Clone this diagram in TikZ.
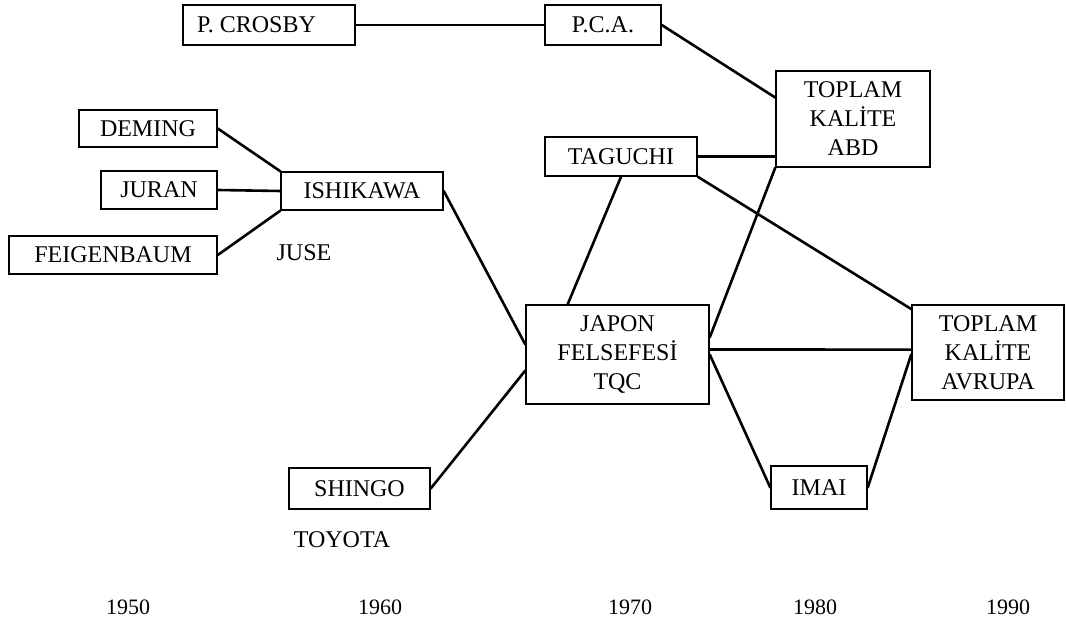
\documentclass[tikz,border=0pt]{standalone}
\usepackage{fontspec}
\setmainfont{Liberation Serif}
\usetikzlibrary{calc}
\begin{document}
\begin{tikzpicture}[x=1pt,y=1pt,
  box/.style={draw,line width=1.5pt,inner sep=0pt,align=center,
    font=\fontsize{24}{29}\selectfont},
  link/.style={line width=2.6pt,line cap=round},
  plain/.style={inner sep=0pt,font=\fontsize{24}{29}\selectfont},
  year/.style={inner sep=0pt,font=\fontsize{22}{26}\selectfont}]
\useasboundingbox (0,0) rectangle (1066,625);
% boxes (centres measured from the bottom edge of the page)
\node[box,minimum width=172,minimum height=40] (crosby) at (269,600) {\hspace*{-25pt}P. CROSBY};
\node[box,minimum width=116,minimum height=40] (pca) at (603,600) {P.C.A.};
\node[box,minimum width=154,minimum height=96] (abd) at (853,506) {TOPLAM\\KALİTE\\ABD};
\node[box,minimum width=152,minimum height=39] (taguchi) at (621,468.5) {TAGUCHI};
\node[box,minimum width=138,minimum height=37] (deming) at (148,496.5) {DEMING};
\node[box,minimum width=116,minimum height=38] (juran) at (159,435) {JURAN};
\node[box,minimum width=208,minimum height=38] (feigen) at (113,370) {FEIGENBAUM};
\node[box,minimum width=162,minimum height=38] (ishikawa) at (362,434) {ISHIKAWA};
\node[box,minimum width=183,minimum height=99] (japon) at (617.5,270.5) {JAPON\\FELSEFESİ\\TQC};
\node[box,minimum width=152,minimum height=95] (avrupa) at (988,272.5) {TOPLAM\\KALİTE\\AVRUPA};
\node[box,minimum width=141,minimum height=41] (shingo) at (359.5,136.5) {SHINGO};
\node[box,minimum width=96,minimum height=43] (imai) at (819,137.5) {IMAI};
% free labels
\node[plain] (juse) at (304,372) {JUSE};
\node[plain] (toyota) at (342,85) {TOYOTA};
% time axis
\node[year] (y50) at (128,18) {1950};
\node[year] (y60) at (380,18) {1960};
\node[year] (y70) at (630,18) {1970};
\node[year] (y80) at (815,18) {1980};
\node[year] (y90) at (1008,18) {1990};
% connectors
\draw[link] (crosby.east) -- (pca.west);
\draw[link] (pca.east) -- ($(abd.north west)!0.28!(abd.south west)$);
\draw[link] (deming.east) -- (ishikawa.north west);
\draw[link] (juran.east) -- (ishikawa.west);
\draw[link] (feigen.east) -- (ishikawa.south west);
\draw[link] (ishikawa.east) -- ($(japon.north west)!0.4!(japon.south west)$);
\draw[link] (shingo.east) -- ($(japon.north west)!0.66!(japon.south west)$);
\draw[link] (taguchi.south) -- ($(japon.north west)!0.23!(japon.north east)$);
\draw[link] (taguchi.east) -- (taguchi.east -| abd.west);
\draw[link] (taguchi.south east) -- ($(avrupa.north west)!0.05!(avrupa.south west)$);
\draw[link] (abd.south west) -- ($(japon.north east)!0.33!(japon.south east)$);
\draw[link] ($(japon.north east)!0.45!(japon.south east)$) -- ($(avrupa.north west)!0.47!(avrupa.south west)$);
\draw[link] ($(japon.north east)!0.5!(japon.south east)$) -- (imai.west);
\draw[link] ($(avrupa.north west)!0.52!(avrupa.south west)$) -- (imai.east);
\end{tikzpicture}
\end{document}
